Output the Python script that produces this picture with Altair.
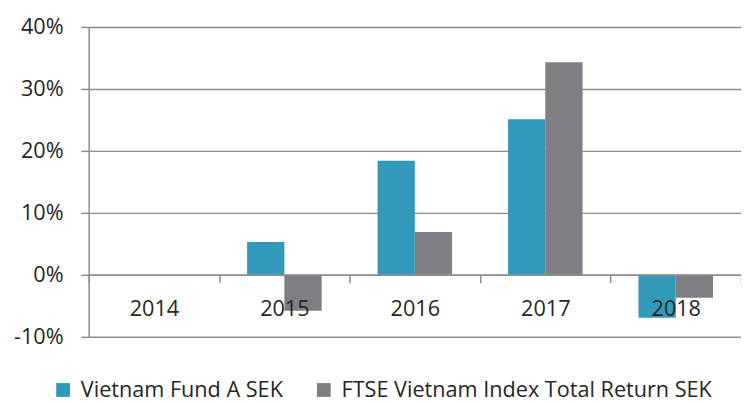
import altair as alt
import pandas as pd

years = ["2014", "2015", "2016", "2017", "2018"]
fund = [None, 5.3, 18.4, 25.1, -6.9]
ftse = [None, -5.8, 6.9, 34.3, -3.7]
series = ["Vietnam Fund A SEK", "FTSE Vietnam Index Total Return SEK"]
colors = ["#3399BB", "#7F7F83"]
y_ticks = [-10, 0, 10, 20, 30, 40]

rows = []
for i, yr in enumerate(years):
    rows.append({"year": yr, "series": series[0], "value": fund[i]})
    rows.append({"year": yr, "series": series[1], "value": ftse[i]})
df = pd.DataFrame(rows)

grey = "#8C8C8C"
txt = "#262626"

chart = alt.Chart(df).mark_bar().encode(
    x=alt.X("year:N", sort=years,
            scale=alt.Scale(domain=years, paddingInner=0, paddingOuter=0),
            axis=alt.Axis(title=None, offset=-63, tickBand="extent", labelAngle=0,
                          tickSize=8, labelPadding=16, grid=False, zindex=2,
                          domainColor=grey, tickColor=grey, domainWidth=1.5, tickWidth=1.5)),
    xOffset=alt.XOffset("series:N", sort=series,
                        scale=alt.Scale(domain=series, paddingInner=0, paddingOuter=0.75)),
    y=alt.Y("value:Q",
            scale=alt.Scale(domain=[-10, 40], nice=False, zero=False),
            axis=alt.Axis(title=None, values=y_ticks, labelExpr="datum.value + '%'",
                          tickSize=8, labelPadding=18, grid=True, gridColor=grey,
                          gridWidth=1.5, domainColor=grey, domainWidth=1.5,
                          tickColor=grey, tickWidth=1.5)),
    color=alt.Color("series:N", sort=series,
                    scale=alt.Scale(domain=series, range=colors),
                    legend=alt.Legend(title=None, orient="none", legendX=-37, legendY=358,
                                      direction="horizontal", symbolType="square",
                                      symbolSize=196, symbolStrokeWidth=0,
                                      labelFontSize=22, labelColor=txt, labelLimit=0,
                                      columnPadding=30, labelOffset=7)),
).properties(
    width=663, height=315,
    autosize=alt.AutoSizeParams(type="none"),
    padding={"left": 82, "top": 16, "right": 0, "bottom": 64},
).configure_view(stroke=None).configure_axis(
    labelFont="Open Sans", labelFontSize=22, labelColor=txt,
).configure_legend(labelFont="Open Sans")

chart.save("out.html", embed_options={"renderer": "svg", "actions": False})
